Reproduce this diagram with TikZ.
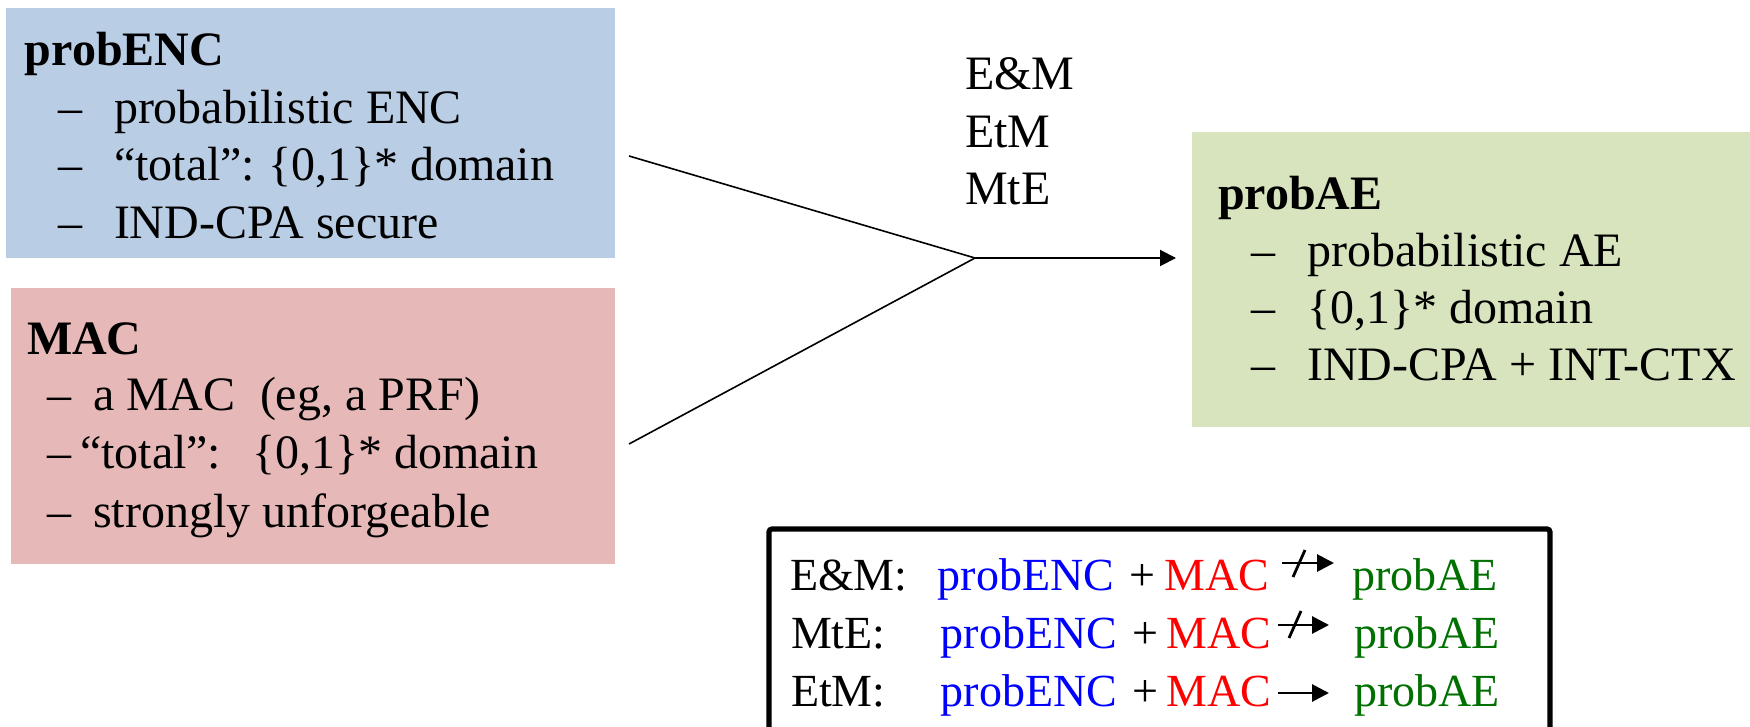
\documentclass[tikz,border=0pt]{standalone}
\usepackage{fontspec}
\setmainfont{Liberation Serif}
\usetikzlibrary{arrows.meta}
\definecolor{encfill}{RGB}{185,205,229}
\definecolor{macfill}{RGB}{230,185,184}
\definecolor{aefill}{RGB}{215,228,189}
\definecolor{encblue}{RGB}{0,0,255}
\definecolor{macred}{RGB}{255,0,0}
\definecolor{aegreen}{RGB}{0,112,0}
\begin{document}
\begin{tikzpicture}[x=0.5pt,y=-0.5pt,
  panel/.style={draw=none, inner sep=0pt, outer sep=0pt},
  txt/.style={anchor=base west, inner sep=0pt, outer sep=0pt, font=\fontsize{24}{28}\selectfont},
  ttl/.style={txt, font=\fontsize{24}{28}\selectfont\bfseries},
  word/.style={anchor=base, inner sep=0pt, outer sep=0pt, font=\fontsize{23}{27}\selectfont},
  feedline/.style={line width=0.8pt},
  mainarrow/.style={line width=1pt, -{Triangle[length=8pt,width=8pt]}},
  smallarrow/.style={line width=1.4pt, -{Triangle[length=8.5pt,width=8.5pt]}},
  slash/.style={line width=1.4pt}
]
\clip (0,0) rectangle (1750,727);
\fill[white] (0,0) rectangle (1750,727);

% coloured panels
\node[panel, fill=encfill, minimum width=304.5pt, minimum height=125pt] (enc) at (310.5,133) {};
\node[panel, fill=macfill, minimum width=302pt, minimum height=138pt] (mac) at (313,426) {};
\node[panel, fill=aefill, minimum width=279pt, minimum height=147.5pt] (ae) at (1471,279.5) {};

% probENC panel
\node[ttl] (enct) at (25,66) {probENC};
\node[txt] (encd1) at (58,124) {–};
\node[txt] (enc1) at (114,124) {probabilistic ENC};
\node[txt] (encd2) at (58,181) {–};
\node[txt] (enc2a) at (114,181) {“total”:};
\node[txt] (enc2b) at (268,181) {\{0,1\}* domain};
\node[txt] (encd3) at (58,239) {–};
\node[txt] (enc3) at (114,239) {IND-CPA secure};

% MAC panel
\node[ttl] (mact) at (27,354) {MAC};
\node[txt] (macd1) at (47,410) {–};
\node[txt] (mac1a) at (93,410) {a MAC};
\node[txt] (mac1b) at (260,410) {(eg, a PRF)};
\node[txt] (macd2) at (47,468) {–};
\node[txt] (mac2a) at (80,468) {“total”:};
\node[txt] (mac2b) at (252,468) {\{0,1\}* domain};
\node[txt] (macd3) at (47,527) {–};
\node[txt] (mac3) at (93,527) {strongly unforgeable};

% probAE panel
\node[ttl] (aet) at (1218,210) {probAE};
\node[txt] (aed1) at (1251,266) {–};
\node[txt] (ae1) at (1307,266) {probabilistic AE};
\node[txt] (aed2) at (1251,323) {–};
\node[txt] (ae2) at (1307,323) {\{0,1\}* domain};
\node[txt] (aed3) at (1251,380) {–};
\node[txt] (ae3) at (1307,380) {IND-CPA + INT-CTX};

% composition methods
\node[txt] (em) at (965,90) {E\&M};
\node[txt] (etm) at (965,148) {EtM};
\node[txt] (mte) at (965,205) {MtE};

% combining the two primitives
\coordinate (encout) at (629,156);
\coordinate (macout) at (629,444);
\coordinate (merge) at (975,258);
\coordinate (aein) at (1176,258);
\draw[feedline] (encout) -- (merge);
\draw[feedline] (macout) -- (merge);
\draw[mainarrow] (merge) -- (aein);

% summary box
\node[draw, line width=2.6pt, rounded corners=1.5pt, inner sep=0pt,
      minimum width=390.5pt, minimum height=108pt] (summary) at (1159.5,637) {};

\node[word, anchor=base west] (s1) at (790,590) {E\&M:};
\node[word, text=encblue] (s1enc) at (1026,590) {probENC};
\node[word] (s1plus) at (1142,590) {+};
\node[word, text=macred] (s1mac) at (1217,590) {MAC};
\node[word, text=aegreen] (s1ae) at (1425,590) {probAE};
\coordinate (s1a) at (1282,563);
\coordinate (s1b) at (1334,563);
\draw[smallarrow] (s1a) -- (s1b);
\coordinate (s1x) at (1293,577);
\coordinate (s1y) at (1305,550);
\draw[slash] (s1x) -- (s1y);

\node[word, anchor=base west] (s2) at (791,648) {MtE:};
\node[word, text=encblue] (s2enc) at (1029,648) {probENC};
\node[word] (s2plus) at (1145,648) {+};
\node[word, text=macred] (s2mac) at (1219,648) {MAC};
\node[word, text=aegreen] (s2ae) at (1427,648) {probAE};
\coordinate (s2a) at (1278,625);
\coordinate (s2b) at (1329,625);
\draw[smallarrow] (s2a) -- (s2b);
\coordinate (s2x) at (1289,638);
\coordinate (s2y) at (1301,611);
\draw[slash] (s2x) -- (s2y);

\node[word, anchor=base west] (s3) at (791,706) {EtM:};
\node[word, text=encblue] (s3enc) at (1029,706) {probENC};
\node[word] (s3plus) at (1145,706) {+};
\node[word, text=macred] (s3mac) at (1219,706) {MAC};
\node[word, text=aegreen] (s3ae) at (1427,706) {probAE};
\coordinate (s3a) at (1278,693);
\coordinate (s3b) at (1329,693);
\draw[smallarrow] (s3a) -- (s3b);
\end{tikzpicture}
\end{document}
